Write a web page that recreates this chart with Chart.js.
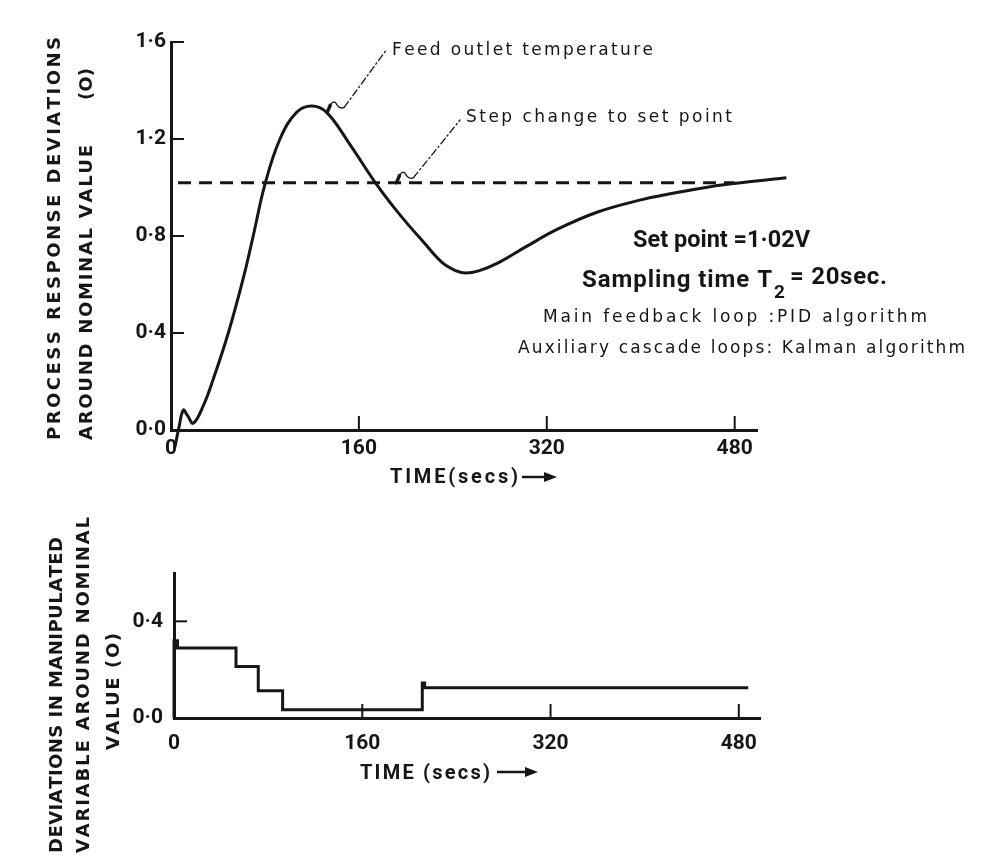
<!DOCTYPE html>
<html>
<head>
<meta charset="utf-8">
<script src="https://cdn.jsdelivr.net/npm/chart.js@4.4.0/dist/chart.umd.min.js"></script>
<style>
  body { margin: 0; background: #fff; }
  #wrap { position: relative; width: 986px; height: 864px; }
  .box { position: absolute; left: 0; width: 986px; }
  #top { top: 0; height: 500px; }
  #bottom { top: 500px; height: 364px; }
</style>
</head>
<body>
<div id="wrap">
  <div class="box" id="top"><canvas id="chartTop"></canvas></div>
  <div class="box" id="bottom"><canvas id="chartBottom"></canvas></div>
</div>
<script>
// top panel - process response (feed outlet temperature)
const responseTime  = [3.4, 6.8, 10.5, 14, 19, 27.5, 36, 48.8, 61.5, 70, 80, 92.8, 107, 119.7, 132.5, 152, 175, 195, 215, 231, 243, 251, 262, 279, 302, 330, 364, 401, 421, 449, 477, 524];
const responseValue = [-0.07, 0.012, 0.082, 0.06, 0.028, 0.1, 0.21, 0.4, 0.625, 0.8, 1.013, 1.2, 1.31, 1.336, 1.31, 1.18, 1.013, 0.887, 0.775, 0.69, 0.656, 0.647, 0.656, 0.69, 0.755, 0.83, 0.9, 0.95, 0.97, 0.995, 1.015, 1.04];
const setPointTime  = [6, 480];
const setPointValue = [1.02, 1.02];
const responseTickValues = [0, 0.4, 0.8, 1.2, 1.6];
const responseTickLabels = ['0·0', '0·4', '0·8', '1·2', '1·6'];

// bottom panel - manipulated variable (held over sampling intervals)
const stepTime  = [0, 0, 3, 52.7, 71.6, 92.3, 211, 213, 488];
const stepValue = [0, 0.32, 0.29, 0.213, 0.113, 0.034, 0.145, 0.125, 0.125];
const stepTickValues = [0, 0.4];
const stepTickLabels = ['0·0', '0·4'];

const timeTickValues = [0, 160, 320, 480];
const timeTickLabels = ['0', '160', '320', '480'];

const INK = '#161616';
const NARROW = 'Roboto, "Liberation Sans", sans-serif';
const PLAIN = '"DejaVu Sans", "Liberation Sans", sans-serif';
const BOTTOM_TOP = 500;

function points(xs, ys) {
  return xs.map((x, i) => ({ x: x, y: ys[i] }));
}

// text stretched (letter spaced) or squeezed to cover a measured span
function drawSpaced(ctx, text, x, y, span, font, angle) {
  ctx.save();
  ctx.font = font;
  ctx.fillStyle = INK;
  ctx.textAlign = 'left';
  ctx.textBaseline = 'alphabetic';
  ctx.translate(x, y);
  if (angle) ctx.rotate(angle);
  const chars = Array.from(text);
  const w = chars.map(c => ctx.measureText(c).width);
  const natural = w.reduce((a, b) => a + b, 0);
  let gap = chars.length > 1 ? (span - natural) / (chars.length - 1) : 0;
  if (gap < 0) { ctx.scale(span / natural, 1); gap = 0; }
  let cx = 0;
  chars.forEach((c, i) => { ctx.fillText(c, cx, 0); cx += w[i] + gap; });
  ctx.restore();
}

function drawArrow(ctx, x1, x2, y) {
  ctx.save();
  ctx.strokeStyle = INK;
  ctx.fillStyle = INK;
  ctx.lineWidth = 2.5;
  ctx.beginPath();
  ctx.moveTo(x1, y);
  ctx.lineTo(x2 - 10, y);
  ctx.stroke();
  ctx.beginPath();
  ctx.moveTo(x2, y);
  ctx.lineTo(x2 - 13, y - 5);
  ctx.lineTo(x2 - 13, y + 5);
  ctx.closePath();
  ctx.fill();
  ctx.restore();
}

// leader from a mark on the chart out to its label
function drawLeader(ctx, ax, ay, tx, ty) {
  ctx.save();
  ctx.strokeStyle = INK;
  ctx.lineCap = 'round';
  ctx.lineWidth = 3.5;
  ctx.beginPath();
  ctx.moveTo(ax, ay);
  ctx.lineTo(ax + 3, ay - 7);
  ctx.stroke();
  ctx.lineWidth = 1.3;
  ctx.beginPath();
  ctx.moveTo(ax + 3, ay - 7);
  ctx.quadraticCurveTo(ax + 7, ay - 14, ax + 10, ay - 7);
  ctx.quadraticCurveTo(ax + 13, ay - 3, ax + 17, ay - 5);
  ctx.stroke();
  ctx.setLineDash([7, 3, 1.5, 3]);
  ctx.beginPath();
  ctx.moveTo(ax + 17, ay - 5);
  ctx.lineTo(tx, ty);
  ctx.stroke();
  ctx.restore();
}

// tick marks drawn inside the plot, as in the original figure
const inwardTicks = {
  id: 'inwardTicks',
  afterDraw(chart) {
    const ctx = chart.ctx;
    const xs = chart.scales.x, ys = chart.scales.y;
    ctx.save();
    ctx.strokeStyle = INK;
    ctx.lineWidth = 2;
    xs.ticks.forEach(t => {
      if (t.value === 0) return;
      const px = xs.getPixelForValue(t.value);
      ctx.beginPath();
      ctx.moveTo(px, ys.bottom);
      ctx.lineTo(px, ys.bottom - 14);
      ctx.stroke();
    });
    ys.ticks.forEach(t => {
      if (t.value === 0) return;
      const py = ys.getPixelForValue(t.value);
      ctx.beginPath();
      ctx.moveTo(xs.left, py);
      ctx.lineTo(xs.left + 13, py);
      ctx.stroke();
    });
    ctx.restore();
  }
};

const topDecor = {
  id: 'topDecor',
  afterDraw(chart) {
    const ctx = chart.ctx;
    const xs = chart.scales.x, ys = chart.scales.y;
    const title = 'bold 18px ' + PLAIN;
    drawSpaced(ctx, 'PROCESS RESPONSE DEVIATIONS', 59.5, 440, 403, title, -Math.PI / 2);
    drawSpaced(ctx, 'AROUND NOMINAL VALUE', 91.5, 440, 295, title, -Math.PI / 2);
    drawSpaced(ctx, '(O)', 91.5, 100, 32, title, -Math.PI / 2);

    drawSpaced(ctx, 'TIME(secs)', 390, 483, 128, 'bold 20px ' + NARROW);
    drawArrow(ctx, 522, 557, 477);

    const small = '17px ' + PLAIN;
    drawSpaced(ctx, 'Feed outlet temperature', 392, 55, 261, small);
    drawSpaced(ctx, 'Step change to set point', 466, 122, 266, small);
    drawLeader(ctx, xs.getPixelForValue(133), ys.getPixelForValue(1.31), 387, 49);
    drawLeader(ctx, xs.getPixelForValue(192), ys.getPixelForValue(1.02), 460, 120);

    const big = 'bold 24px ' + NARROW;
    drawSpaced(ctx, 'Set point =1·02V', 633, 247, 177, big);
    drawSpaced(ctx, 'Sampling time T', 582, 287, 190, big);
    drawSpaced(ctx, '2', 774, 298, 11, 'bold 19px ' + NARROW);
    drawSpaced(ctx, '= 20sec.', 790, 284, 97, big);
    drawSpaced(ctx, 'Main feedback loop :PID algorithm', 543, 322, 384, small);
    drawSpaced(ctx, 'Auxiliary cascade loops: Kalman algorithm', 518, 353, 447, small);
  }
};

const bottomDecor = {
  id: 'bottomDecor',
  afterDraw(chart) {
    const ctx = chart.ctx;
    ctx.save();
    ctx.translate(0, -BOTTOM_TOP);
    const title = 'bold 18px ' + PLAIN;
    drawSpaced(ctx, 'DEVIATIONS IN MANIPULATED', 61.5, 853, 316, title, -Math.PI / 2);
    drawSpaced(ctx, 'VARIABLE AROUND NOMINAL', 88.5, 853, 336, title, -Math.PI / 2);
    drawSpaced(ctx, 'VALUE (O)', 118.5, 750, 117, title, -Math.PI / 2);
    drawSpaced(ctx, 'TIME (secs)', 360, 779, 130, 'bold 20px ' + NARROW);
    drawArrow(ctx, 497, 538, 772);
    ctx.restore();
  }
};

function tickFont() {
  return { family: NARROW, size: 21, weight: 'bold' };
}

function axes(cfg) {
  return {
    x: {
      type: 'linear', min: 0, max: cfg.xMax,
      grid: { display: false, drawTicks: false },
      border: { display: true, color: INK, width: 3 },
      afterBuildTicks: s => { s.ticks = timeTickValues.map(v => ({ value: v })); },
      afterFit: s => { s.height = cfg.xHeight; },
      ticks: {
        color: INK, font: tickFont(), padding: cfg.xPad, maxRotation: 0, autoSkip: false,
        callback: (v, i) => timeTickLabels[i]
      }
    },
    y: {
      type: 'linear', min: 0, max: cfg.yMax,
      grid: { display: false, drawTicks: false },
      border: { display: true, color: INK, width: 3 },
      afterBuildTicks: s => { s.ticks = cfg.yTicks.map(v => ({ value: v })); },
      afterFit: s => { s.width = cfg.yWidth; },
      ticks: {
        color: INK, font: tickFont(), padding: cfg.yPad, autoSkip: false,
        callback: (v, i) => cfg.yLabels[i]
      }
    }
  };
}

new Chart(document.getElementById('chartTop'), {
  type: 'line',
  data: {
    datasets: [{
      label: 'Feed outlet temperature',
      data: points(responseTime, responseValue),
      borderColor: INK,
      borderWidth: 3,
      pointRadius: 0,
      tension: 0.4,
      clip: false
    }, {
      label: 'Step change to set point',
      data: points(setPointTime, setPointValue),
      borderColor: INK,
      borderWidth: 3,
      borderDash: [13, 8],
      pointRadius: 0,
      clip: false
    }]
  },
  options: {
    responsive: true,
    maintainAspectRatio: false,
    animation: false,
    layout: { padding: { left: 0, right: 229, top: 42, bottom: 0 } },
    plugins: { legend: { display: false }, tooltip: { enabled: false } },
    scales: axes({ xMax: 499, xHeight: 70, xPad: 6, yMax: 1.6, yWidth: 171, yPad: 5,
                   yTicks: responseTickValues, yLabels: responseTickLabels })
  },
  plugins: [inwardTicks, topDecor]
});

new Chart(document.getElementById('chartBottom'), {
  type: 'line',
  data: {
    datasets: [{
      label: 'Manipulated variable',
      data: points(stepTime, stepValue),
      borderColor: INK,
      borderWidth: 3,
      pointRadius: 0,
      stepped: 'before',
      clip: false
    }]
  },
  options: {
    responsive: true,
    maintainAspectRatio: false,
    animation: false,
    layout: { padding: { left: 0, right: 226, top: 73, bottom: 0 } },
    plugins: { legend: { display: false }, tooltip: { enabled: false } },
    scales: axes({ xMax: 498, xHeight: 146, xPad: 13, yMax: 0.6, yWidth: 174, yPad: 11,
                   yTicks: stepTickValues, yLabels: stepTickLabels })
  },
  plugins: [inwardTicks, bottomDecor]
});
</script>
</body>
</html>
